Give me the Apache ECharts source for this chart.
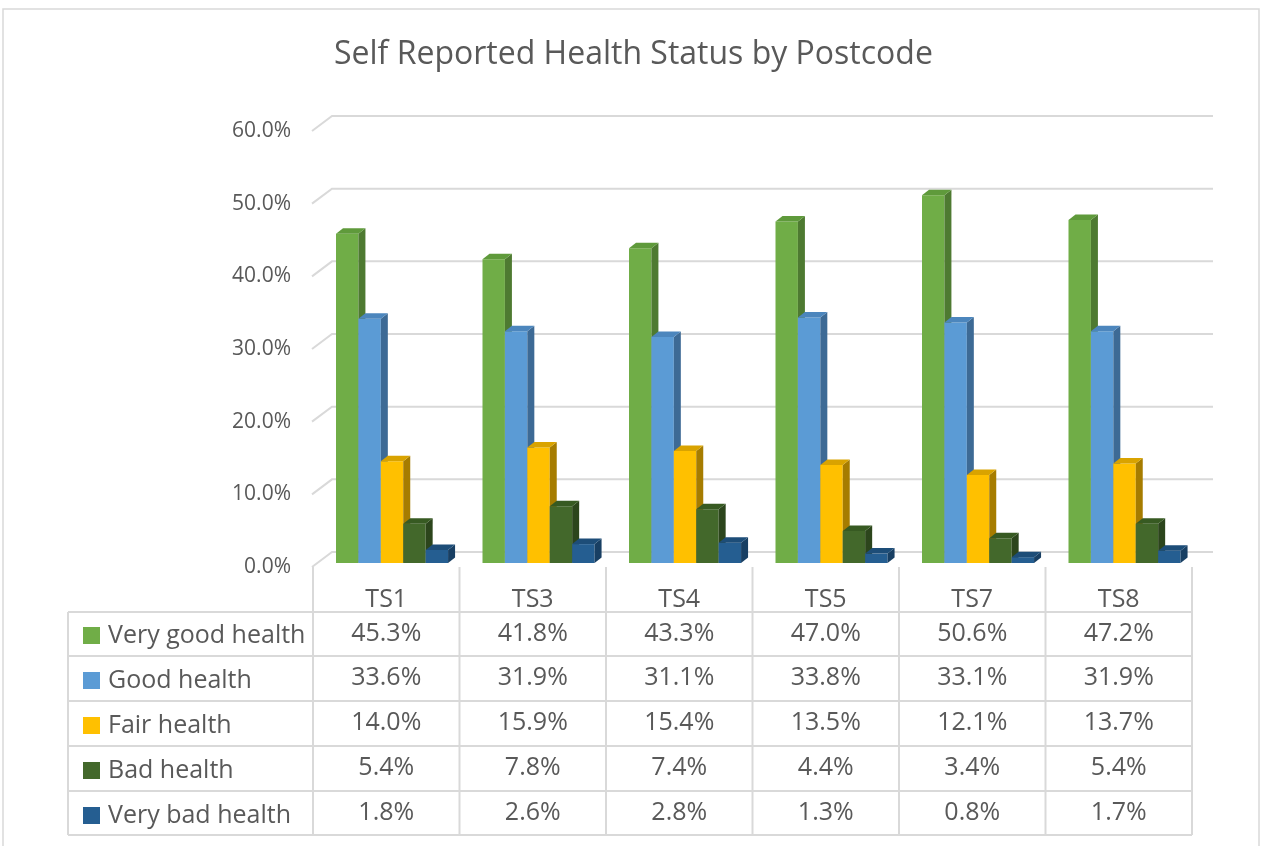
<!DOCTYPE html>
<html>
<head>
<meta charset="utf-8">
<script src="https://cdn.jsdelivr.net/npm/echarts@6/dist/echarts.min.js"></script>
<style>
  html, body { margin: 0; padding: 0; background: #fff; }
  #chart { width: 1261px; height: 846px; }
</style>
</head>
<body>
<div id="chart"></div>
<script>
// data
const categories = ['TS1', 'TS3', 'TS4', 'TS5', 'TS7', 'TS8'];
const seriesNames = ['Very good health', 'Good health', 'Fair health', 'Bad health', 'Very bad health'];
const veryGood = [45.3, 41.8, 43.3, 47.0, 50.6, 47.2];
const good = [33.6, 31.9, 31.1, 33.8, 33.1, 31.9];
const fair = [14.0, 15.9, 15.4, 13.5, 12.1, 13.7];
const bad = [5.4, 7.8, 7.4, 4.4, 3.4, 5.4];
const veryBad = [1.8, 2.6, 2.8, 1.3, 0.8, 1.7];
const yTicks = [0, 10, 20, 30, 40, 50, 60];

const allValues = [veryGood, good, fair, bad, veryBad];
// front / side / top colours of each bar
const frontCol = ['#70ad47', '#5b9bd5', '#ffc000', '#43682b', '#255e91'];
const sideCol = ['#4e7a31', '#3d6a95', '#a67c00', '#2c451c', '#183f63'];
const topCol = ['#5f9a3b', '#4c86bd', '#d9a300', '#375a22', '#1d4d78'];

const FONT = '"Open Sans", sans-serif';
const TXT = '#595959';
const LINE = '#d9d9d9';
const DX = 7, DY = -5.5;          // bar depth
const BACK_X = 20, BACK_Y = -15;  // back wall offset
const rowY = [634, 678, 723, 768, 813];
const rowLines = [612, 656, 701, 746, 791, 835];
const tableLeft = 68;

let myChart = echarts.init(document.getElementById('chart'));

function barRender(s) {
  return function (params, api) {
    const cat = api.value(0), v = api.value(1);
    const base = api.coord([cat, 0]);
    const tp = api.coord([cat, v]);
    const bw = api.size([1, 0])[0];
    const w = bw * 0.153;
    const x = base[0] - bw / 2 + bw * 0.157 + s * w;
    const yb = base[1] - 4, yt = tp[1] - 4;
    return {
      type: 'group',
      children: [
        { type: 'rect', shape: { x: x, y: yt, width: w, height: yb - yt }, style: { fill: frontCol[s] } },
        { type: 'polygon', shape: { points: [[x + w, yt], [x + w + DX, yt + DY], [x + w + DX, yb + DY], [x + w, yb]] }, style: { fill: sideCol[s] } },
        { type: 'polygon', shape: { points: [[x, yt], [x + w, yt], [x + w + DX, yt + DY], [x + DX, yt + DY]] }, style: { fill: topCol[s] } },
        { type: 'text', x: base[0], y: rowY[s], style: { text: v.toFixed(1) + '%', fill: TXT, fontSize: 25, fontFamily: FONT, align: 'center', verticalAlign: 'middle' } }
      ]
    };
  };
}

let series = [];

// back wall gridlines with the little diagonal to the front
series.push({
  type: 'custom',
  silent: true,
  z: 1,
  data: yTicks.map(v => [0, v]),
  encode: { x: 0, y: 1 },
  renderItem: function (params, api) {
    const p = api.coord([0, api.value(1)]);
    const bw = api.size([1, 0])[0];
    const l = p[0] - bw / 2;
    const r = l + bw * categories.length;
    return {
      type: 'polyline',
      shape: { points: [[l - 1, p[1]], [l - 1 + BACK_X, p[1] + BACK_Y], [r + BACK_X + 1, p[1] + BACK_Y]] },
      style: { stroke: LINE, lineWidth: 2, fill: null }
    };
  }
});

// data table borders
series.push({
  type: 'custom',
  silent: true,
  z: 1,
  data: categories.map((c, i) => [i, 0]),
  encode: { x: 0, y: 1 },
  renderItem: function (params, api) {
    const i = api.value(0);
    const p = api.coord([i, 0]);
    const bw = api.size([1, 0])[0];
    const l = p[0] - bw / 2;
    const bottom = rowLines[rowLines.length - 1];
    const st = { stroke: LINE, lineWidth: 2 };
    const kids = [{ type: 'line', shape: { x1: l, y1: p[1], x2: l, y2: bottom }, style: st }];
    if (i === categories.length - 1) {
      kids.push({ type: 'line', shape: { x1: l + bw, y1: p[1], x2: l + bw, y2: bottom }, style: st });
    }
    if (i === 0) {
      const r = l + bw * categories.length;
      rowLines.forEach(y => kids.push({ type: 'line', shape: { x1: tableLeft, y1: y, x2: r, y2: y }, style: st }));
      kids.push({ type: 'line', shape: { x1: tableLeft, y1: rowLines[0], x2: tableLeft, y2: bottom }, style: st });
    }
    return { type: 'group', children: kids };
  }
});

seriesNames.forEach((name, s) => {
  series.push({
    name: name,
    type: 'custom',
    z: 2,
    itemStyle: { color: frontCol[s] },
    data: allValues[s].map((v, i) => [i, v]),
    encode: { x: 0, y: 1 },
    renderItem: barRender(s)
  });
});

let option = {
  animation: false,
  textStyle: { fontFamily: FONT },
  title: {
    text: 'Self Reported Health Status by Postcode',
    left: 329,
    top: 34,
    textStyle: { fontSize: 32, fontWeight: 'normal', color: TXT, fontFamily: FONT }
  },
  legend: {
    data: seriesNames,
    orient: 'vertical',
    left: 78,
    top: 618,
    icon: 'rect',
    itemWidth: 17,
    itemHeight: 17,
    itemGap: 20,
    selectedMode: false,
    textStyle: { fontSize: 25, color: TXT, fontFamily: FONT, lineHeight: 24, padding: [0, 0, 0, 3] }
  },
  grid: { left: 313, right: 69, top: 131, bottom: 279 },
  xAxis: {
    type: 'category',
    data: categories,
    axisLine: { show: false },
    axisTick: { show: false },
    axisLabel: { margin: 21, fontSize: 25, color: TXT, fontFamily: FONT, lineHeight: 24 },
    splitLine: { show: false }
  },
  yAxis: {
    type: 'value',
    min: 0,
    max: 60,
    interval: 10,
    axisLine: { show: false },
    axisTick: { show: false },
    splitLine: { show: false },
    axisLabel: {
      margin: 22,
      fontSize: 21,
      color: TXT,
      fontFamily: FONT,
      padding: [6, 0, 0, 0],
      formatter: v => v.toFixed(1) + '%'
    }
  },
  graphic: [{
    type: 'rect',
    silent: true,
    shape: { x: 3, y: 9, width: 1256, height: 850 },
    style: { fill: null, stroke: LINE, lineWidth: 1.5 }
  }],
  series: series
};

myChart.setOption(option);
</script>
</body>
</html>
